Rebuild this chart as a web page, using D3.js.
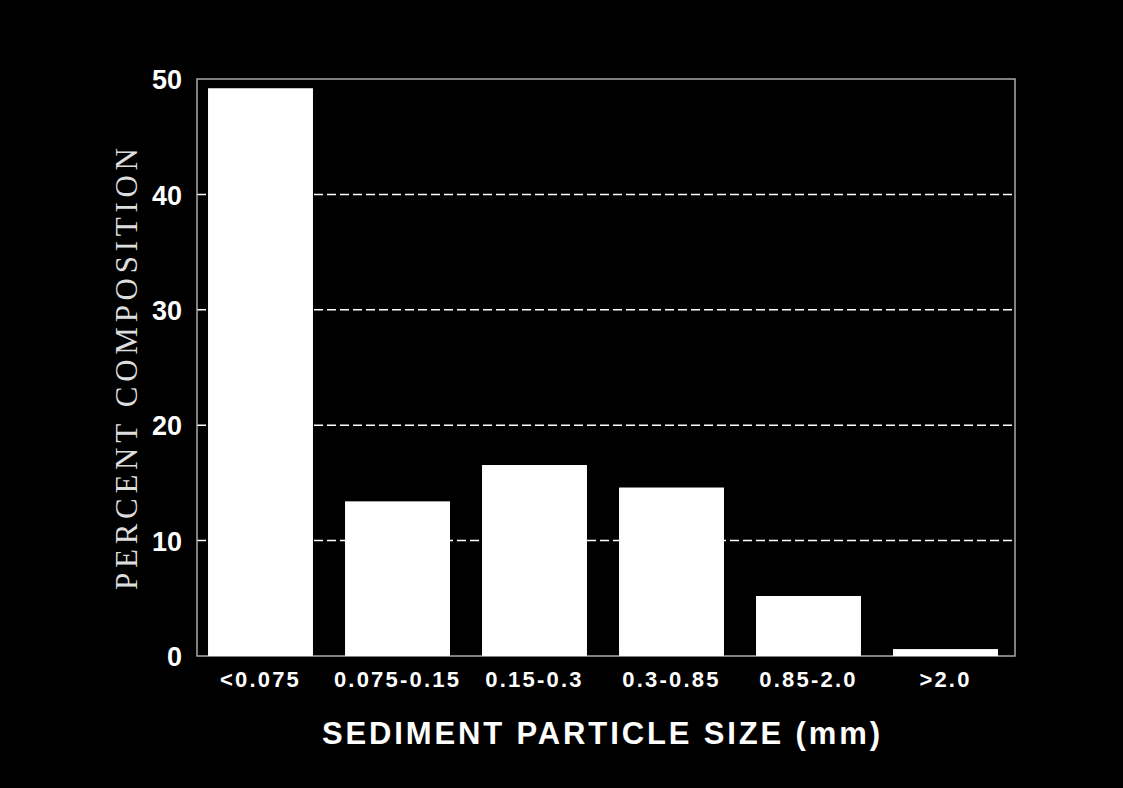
<!DOCTYPE html>
<html><head><meta charset="utf-8">
<script src="https://cdn.jsdelivr.net/npm/d3@7"></script>
<style>html,body{margin:0;padding:0;background:#000;}</style>
</head><body>
<svg id="c" width="1123" height="788"></svg>
<script>
const categories = ["<0.075", "0.075-0.15", "0.15-0.3", "0.3-0.85", "0.85-2.0", ">2.0"];
const values = [49.2, 13.4, 16.55, 14.6, 5.2, 0.6];
const yTicks = [0, 10, 20, 30, 40, 50];
const gridTicks = [10, 20, 30, 40];
const xTitle = "SEDIMENT PARTICLE SIZE (mm)";
const yTitle = "PERCENT COMPOSITION";

(function () {
const svg = d3.select("#c");
svg.append("rect").attr("width", 1123).attr("height", 788).attr("fill", "#000");

const pL = 197, pR = 1015, pT = 79, pB = 656;
const x = d3.scaleBand().domain(categories).range([192, 1014]).paddingInner(0.234).paddingOuter(0.117);
const y = d3.scaleLinear().domain([0, 50]).range([pB, pT]);

// gridlines
svg.append("g").selectAll("line").data(gridTicks).join("line")
  .attr("x1", pL).attr("x2", pR)
  .attr("y1", d => y(d)).attr("y2", d => y(d))
  .attr("stroke", "#fff").attr("stroke-width", 1.5).attr("stroke-dasharray", "9,4");

// frame
svg.append("rect").attr("x", pL).attr("y", pT).attr("width", pR - pL).attr("height", pB - pT)
  .attr("fill", "none").attr("stroke", "#aaa").attr("stroke-width", 1.5);

// bars
svg.append("g").selectAll("rect").data(values).join("rect")
  .attr("x", (d, i) => x(categories[i]))
  .attr("width", x.bandwidth())
  .attr("y", d => y(d))
  .attr("height", d => y(0) - y(d))
  .attr("fill", "#fff");

// y axis
const yAxis = d3.axisLeft(y).tickValues(yTicks).tickSize(0).tickPadding(0).tickFormat(d3.format("d"));
const gy = svg.append("g").attr("transform", "translate(182,0)").call(yAxis);
gy.select(".domain").remove();
gy.selectAll("text").attr("fill", "#fff").attr("font-family", "Liberation Sans, Arial, sans-serif")
  .attr("font-weight", "bold").attr("font-size", 27).attr("dy", "0.36em");

// x axis
const xAxis = d3.axisBottom(x).tickSize(0).tickPadding(0);
const gx = svg.append("g").attr("transform", "translate(0,687)").call(xAxis);
gx.select(".domain").remove();
gx.selectAll("text").attr("fill", "#fff").attr("font-family", "Liberation Sans, Arial, sans-serif")
  .attr("font-weight", "bold").attr("font-size", 22).attr("letter-spacing", "2.2px").attr("dy", 0);

// x title
svg.append("text").attr("x", 601).attr("y", 744).attr("text-anchor", "middle")
  .attr("fill", "#fff").attr("font-family", "Liberation Sans, Arial, sans-serif")
  .attr("font-weight", "bold").attr("font-size", 31)
  .attr("textLength", 558).attr("lengthAdjust", "spacing").text(xTitle);

// y title
svg.append("text").attr("transform", "translate(137,369) rotate(-90)").attr("text-anchor", "middle")
  .attr("fill", "#ddd").attr("font-family", "Liberation Serif, Times New Roman, serif")
  .attr("font-size", 31).attr("textLength", 442).attr("lengthAdjust", "spacing").text(yTitle);
})();
</script>
</body></html>
